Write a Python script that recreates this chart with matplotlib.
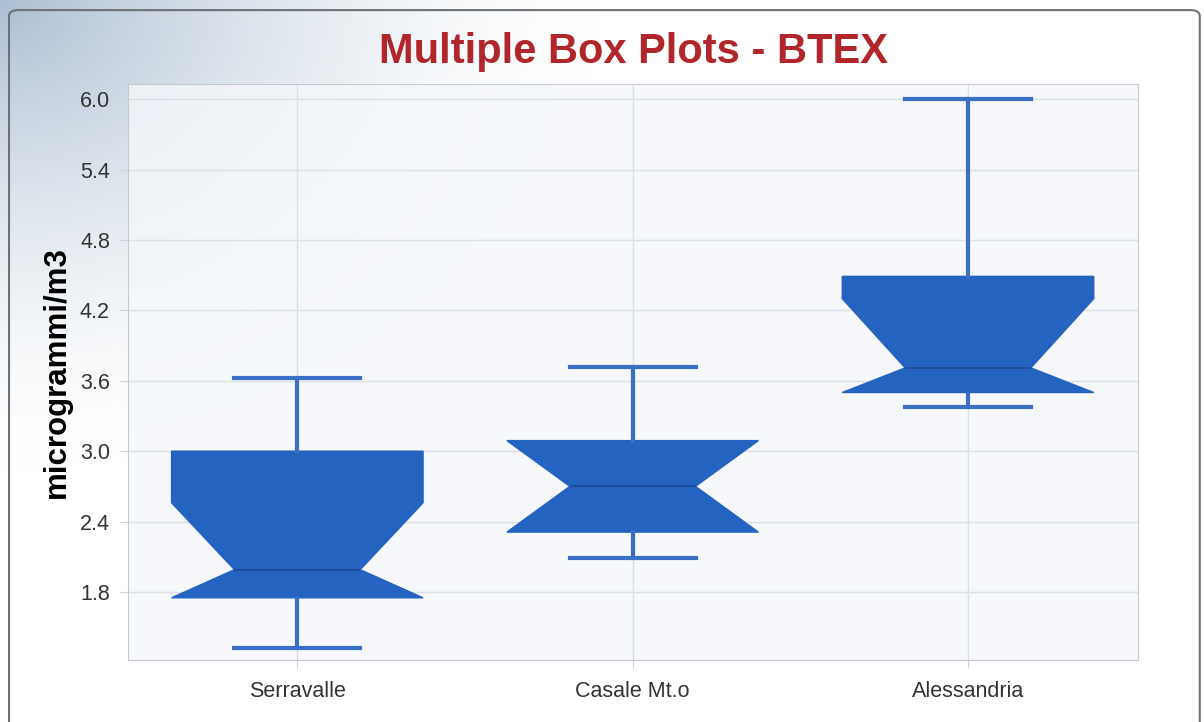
import numpy as np
import matplotlib
matplotlib.use("Agg")
import matplotlib.pyplot as plt
from matplotlib.patches import FancyBboxPatch

plt.rcParams['font.family'] = ['Liberation Sans', 'DejaVu Sans']

# box plot summary values
sites = ["Serravalle", "Casale Mt.o", "Alessandria"]
whis_lo = [1.32, 2.09, 3.38]
q1 = [1.75, 2.31, 3.50]
median = [1.99, 2.70, 3.71]
q3 = [3.00, 3.09, 4.49]
whis_hi = [3.62, 3.72, 6.00]
ci_lo = [1.75, 2.31, 3.50]
ci_hi = [2.56, 3.09, 4.30]
yticks = [1.8, 2.4, 3.0, 3.6, 4.2, 4.8, 5.4, 6.0]

box_color = "#2563c0"
line_color = "#3a6fc8"

fig = plt.figure(figsize=(12.04, 7.22), dpi=100)
fig.patch.set_facecolor("white")

# background gradient (bluish grey top-left fading to white)
bg = fig.add_axes([0, 0, 1, 1], zorder=-10)
bg.axis("off")
yy, xx = np.mgrid[0:1:200j, 0:1:300j]
d = np.clip(1 - np.sqrt((xx / 0.5) ** 2 + (yy / 0.65) ** 2), 0, 1)
img = np.ones((200, 300, 3))
top = np.array([0.68, 0.75, 0.83])
for c in range(3):
    img[:, :, c] = 1 - (1 - top[c]) * d ** 1.6
bg.imshow(img, extent=[0, 1, 0, 1], aspect="auto", origin="upper")
bg.set_xlim(0, 1)
bg.set_ylim(0, 1)
frame = FancyBboxPatch((0.0075, -0.05), 0.989, 1.036, boxstyle="round,pad=0,rounding_size=0.008",
                       transform=bg.transAxes, facecolor="none", edgecolor="#6e7278", linewidth=1.5)
bg.add_patch(frame)

ax = fig.add_axes([0.1063, 0.0859, 0.8389, 0.7978])
ax.set_facecolor((0.957, 0.969, 0.984, 0.8))

stats = []
for i, name in enumerate(sites):
    stats.append(dict(label=name, whislo=whis_lo[i], q1=q1[i], med=median[i], q3=q3[i],
                      whishi=whis_hi[i], cilo=ci_lo[i], cihi=ci_hi[i], fliers=[]))

ax.bxp(stats, positions=range(len(sites)), widths=0.75, shownotches=True, patch_artist=True,
       showfliers=False,
       boxprops=dict(facecolor=box_color, edgecolor=box_color, linewidth=1),
       medianprops=dict(color="#1c4a94", linewidth=1.2),
       whiskerprops=dict(color=line_color, linewidth=3),
       capprops=dict(color=line_color, linewidth=3),
       capwidths=0.375, zorder=3)

ax.set_xlim(-0.505, 2.507)
ax.set_ylim(1.22, 6.13)
ax.set_yticks(yticks)
ax.set_yticklabels([f"{v:.1f}" for v in yticks])
ax.set_xticks(range(len(sites)))
ax.set_xticklabels(sites)
ax.grid(True, color="#dcdfe3", linewidth=1, zorder=0)
ax.set_axisbelow(True)
for s in ax.spines.values():
    s.set_color("#c6cad0")
ax.tick_params(axis="both", colors="#d0d4d9", labelcolor="#333333", labelsize=15.5, length=6)
ax.tick_params(axis="y", pad=7)
ax.tick_params(axis="x", pad=9)

ax.set_ylabel("microgrammi/m3", fontsize=22.5, fontweight="bold", color="black")
ax.yaxis.set_label_coords(-0.056, 0.5)
ax.set_title("Multiple Box Plots - BTEX", fontsize=30, fontweight="bold", color="#b0262a", pad=15)

fig.savefig("out.png", dpi=100)
